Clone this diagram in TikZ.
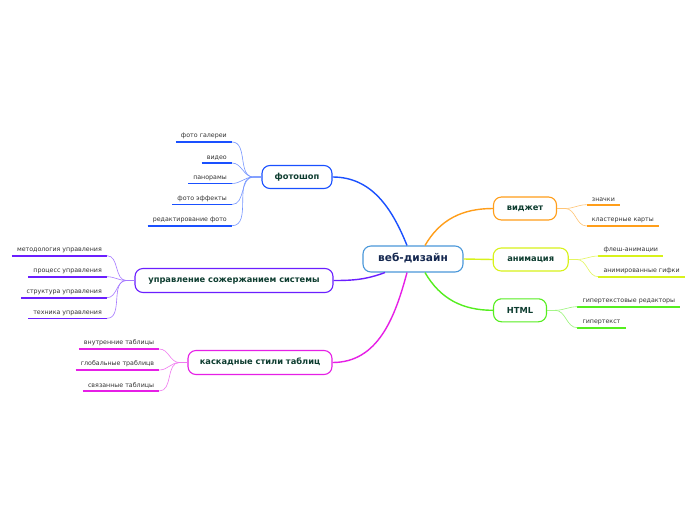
\documentclass[tikz,border=0pt]{standalone}
\usepackage{fontspec}
\setmainfont{DejaVu Sans}
\definecolor{cblue}{HTML}{1A50FF}
\definecolor{cpurple}{HTML}{6B1FFF}
\definecolor{cmag}{HTML}{E61FE6}
\definecolor{corange}{HTML}{FF9E1A}
\definecolor{cyel}{HTML}{D8F21A}
\definecolor{cgreen}{HTML}{55EE1F}
\definecolor{ccent}{HTML}{4A98DA}
\definecolor{ttext}{HTML}{0E3D30}
\definecolor{ctext}{HTML}{152850}
\begin{document}
\begin{tikzpicture}[x=1pt,y=-1pt,
  topic/.style={draw, rounded corners=8pt, line width=1.1pt, fill=white,
    font=\bfseries\fontsize{8.3}{9}\selectfont, text=ttext, minimum height=23pt,
    inner sep=0pt, text height=4.6pt, text depth=0pt},
  leafL/.style={anchor=south east, inner xsep=5pt, inner ysep=2.6pt,
    font=\fontsize{6.3}{7}\selectfont, text=black!80},
  leafR/.style={anchor=south west, inner xsep=5pt, inner ysep=2.6pt,
    font=\fontsize{6.3}{7}\selectfont, text=black!80},
  uline/.style={line width=1.6pt},
  lconn/.style={line width=0.6pt},
  mconn/.style={line width=1.4pt}]
\fill[white] (0,0) rectangle (696,520);
\useasboundingbox (0,0) rectangle (696,520);

% topics
\node[topic, draw=ccent, minimum width=100pt, minimum height=26pt,
  font=\bfseries\fontsize{10.6}{12}\selectfont, text=ctext, text height=5.9pt] (c) at (413,259) {веб-дизайн};
\node[topic, draw=cblue, minimum width=70pt] (f) at (297,177) {фотошоп};
\node[topic, draw=cpurple, minimum width=198pt, minimum height=24pt] (u) at (234,280.5) {управление сожержанием системы};
\node[topic, draw=cmag, minimum width=144pt, minimum height=24pt] (k) at (260,362.5) {каскадные стили таблиц};
\node[topic, draw=corange, minimum width=63pt] (v) at (525,208.5) {виджет};
\node[topic, draw=cyel, minimum width=75pt] (a) at (530.7,259.5) {анимация};
\node[topic, draw=cgreen, minimum width=53pt, text height=5.8pt] (h) at (520,310.3) {HTML};

% main connectors
\draw[mconn, cblue] (f.east) to[out=0,in=112] ([xshift=-6pt]c.north);
\draw[mconn, corange] ([xshift=12pt]c.north) to[out=60,in=180] (v.west);
\draw[mconn, cyel] (c.east) -- (a.west);
\draw[mconn, cgreen] ([xshift=12pt]c.south) to[out=-60,in=180] (h.west);
\draw[mconn, cpurple] (u.east) to[out=0,in=200] ([xshift=-28pt]c.south);
\draw[mconn, cmag] ([xshift=-6pt]c.south) to[out=-105,in=0] (k.east);

% leaves of фотошоп
\node[leafL] (f1) at (232,142) {фото галереи};
\node[leafL] (f2) at (232,163) {видео};
\node[leafL] (f3) at (232,183.5) {панорамы};
\node[leafL] (f4) at (232,204.5) {фото эффекты};
\node[leafL] (f5) at (232,225.7) {редактирование фото};
\foreach \n in {f1,f2,f3,f4,f5}{
  \draw[uline, cblue] (\n.south west) -- (\n.south east);
  \draw[lconn, cblue!60] (\n.south east) to[out=0,in=180] ([xshift=-8pt]f.west) -- (f.west);
}
% leaves of управление
\node[leafL] (u1) at (107,255.7) {методология управления};
\node[leafL] (u2) at (107,276.7) {процесс управления};
\node[leafL] (u3) at (107,297.7) {структура управления};
\node[leafL] (u4) at (107,318.3) {техника управления};
\foreach \n in {u1,u2,u3,u4}{
  \draw[uline, cpurple] (\n.south west) -- (\n.south east);
  \draw[lconn, cpurple!60] (\n.south east) to[out=0,in=180] ([xshift=-8pt]u.west) -- (u.west);
}
% leaves of каскадные
\node[leafL] (k1) at (159.3,349) {внутренние таблицы};
\node[leafL] (k2) at (159.3,370) {глобальные траблицв};
\node[leafL] (k3) at (159.3,391) {связанные таблицы};
\foreach \n in {k1,k2,k3}{
  \draw[uline, cmag] (\n.south west) -- (\n.south east);
  \draw[lconn, cmag!60] (\n.south east) to[out=0,in=180] ([xshift=-8pt]k.west) -- (k.west);
}
% leaves of виджет
\node[leafR] (v1) at (586.7,204.7) {значки};
\node[leafR] (v2) at (586.7,226) {кластерные карты};
\foreach \n in {v1,v2}{
  \draw[uline, corange] (\n.south west) -- (\n.south east);
  \draw[lconn, corange!60] (v.east) -- ([xshift=8pt]v.east) to[out=0,in=180] (\n.south west);
}
% leaves of анимация
\node[leafR] (a1) at (598.3,256) {флеш-анимации};
\node[leafR] (a2) at (598.3,276.7) {анимированные гифки};
\foreach \n in {a1,a2}{
  \draw[uline, cyel] (\n.south west) -- (\n.south east);
  \draw[lconn, cyel!70] (a.east) -- ([xshift=8pt]a.east) to[out=0,in=180] (\n.south west);
}
% leaves of HTML
\node[leafR] (h1) at (577.3,306.7) {гипертекстовые редакторы};
\node[leafR] (h2) at (577.3,327.7) {гипертекст};
\foreach \n in {h1,h2}{
  \draw[uline, cgreen] (\n.south west) -- (\n.south east);
  \draw[lconn, cgreen!60] (h.east) -- ([xshift=8pt]h.east) to[out=0,in=180] (\n.south west);
}
\end{tikzpicture}
\end{document}
